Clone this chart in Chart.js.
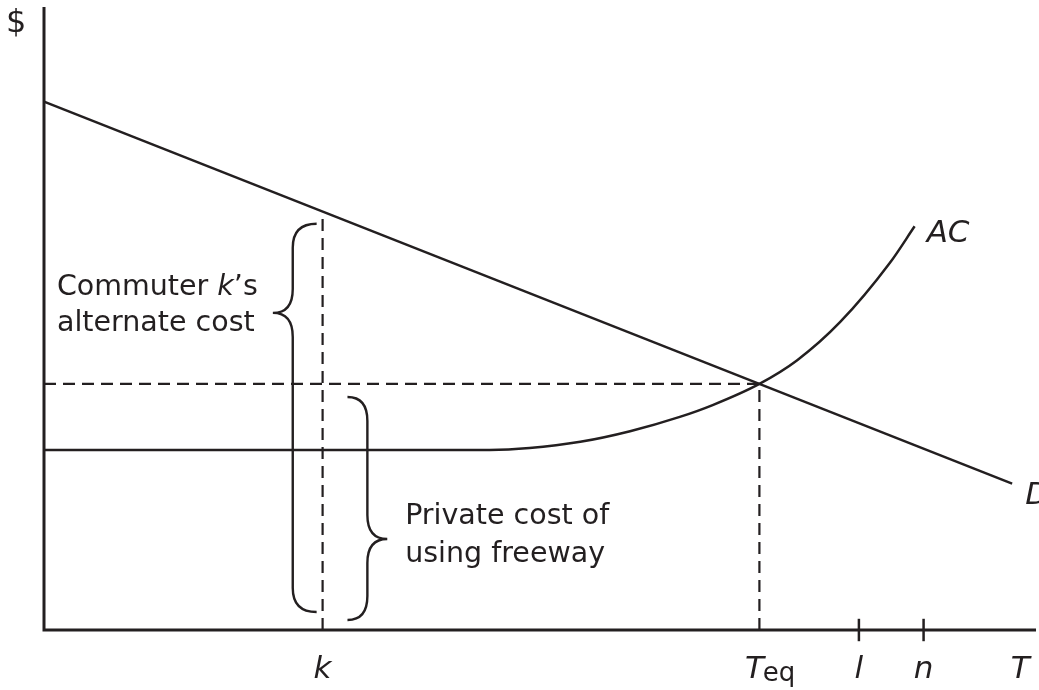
<!DOCTYPE html>
<html>
<head>
<meta charset="utf-8">
<script src="https://cdn.jsdelivr.net/npm/chart.js@4/dist/chart.umd.min.js"></script>
<style>
html,body{margin:0;padding:0;background:#fff;}
</style>
</head>
<body>
<canvas id="grafik" width="1039" height="690"></canvas>
<script>
// demand line D (two ends)
var dX = [0, 97.3];
var dY = [84.8, 23.5];
// average cost curve AC
var acX = [0, 44.8, 48.8, 53.9, 58.9, 63.9, 67.2, 71.9, 75.7, 80.0, 85.0, 87.5];
var acY = [28.9, 28.9, 29.2, 30.2, 31.9, 34.2, 36.1, 39.5, 43.3, 49.4, 58.9, 64.8];
// commuter k and the equilibrium point
var kX = 28.0;
var eqX = 71.9;
var eqY = 39.5;
// x axis labels
var tickX = [28.0, 71.9, 81.9, 88.4, 98.1];
var tickText = ['k', 'T', 'l', 'n', 'T'];
var tickSub = ['', 'eq', '', '', ''];
// small marks on the x axis
var markX = [81.9, 88.4];
// braces: [end x, spine x, tip x, top y, bottom y, tip y]
var braceLeft = [27.4, 25.0, 23.0, 65.2, 2.9, 50.9];
var braceRight = [30.5, 32.5, 34.5, 37.4, 1.6, 14.6];

var renk = '#231f20';
var yazi = '"DejaVu Sans", sans-serif';

function pts(xs, ys) {
  return xs.map(function(v, i) { return {x: v, y: ys[i]}; });
}
function dAt(x) {
  return dY[0] + (dY[1] - dY[0]) * (x - dX[0]) / (dX[1] - dX[0]);
}
function cizgi(data, w, dash, extra) {
  var d = {data: data, showLine: true, borderColor: renk, borderWidth: w,
    pointRadius: 0, fill: false, clip: false, borderDash: dash || []};
  for (var k in extra) d[k] = extra[k];
  return d;
}

var datasets = [];
// axes
datasets.push(cizgi([{x: 0, y: 100}, {x: 0, y: 0}, {x: 99.7, y: 0}], 3, null,
  {borderJoinStyle: 'miter'}));
// D and AC
datasets.push(cizgi(pts(dX, dY), 2.5));
datasets.push(cizgi(pts(acX, acY), 2.5, null, {cubicInterpolationMode: 'monotone'}));
// dashed guides
datasets.push(cizgi([{x: kX, y: 0}, {x: kX, y: dAt(kX)}], 2.2, [12, 7]));
datasets.push(cizgi([{x: 0, y: eqY}, {x: eqX, y: eqY}], 2.2, [12, 7]));
datasets.push(cizgi([{x: eqX, y: 0}, {x: eqX, y: eqY}], 2.2, [12, 7]));
// marks l and n
markX.forEach(function(m) {
  datasets.push(cizgi([{x: m, y: -1.8}, {x: m, y: 1.8}], 2.5));
});

function kose(ctx, sx, sy, b) {
  var xe = sx.getPixelForValue(b[0]), xs = sx.getPixelForValue(b[1]), xt = sx.getPixelForValue(b[2]);
  var yt = sy.getPixelForValue(b[3]), yb = sy.getPixelForValue(b[4]), yp = sy.getPixelForValue(b[5]);
  var r = 24;
  ctx.beginPath();
  ctx.moveTo(xe, yt);
  ctx.quadraticCurveTo(xs, yt, xs, yt + r);
  ctx.lineTo(xs, yp - r);
  ctx.quadraticCurveTo(xs, yp, xt, yp);
  ctx.quadraticCurveTo(xs, yp, xs, yp + r);
  ctx.lineTo(xs, yb - r);
  ctx.quadraticCurveTo(xs, yb, xe, yb);
  ctx.stroke();
}

// draw a line made of [text, italic] parts
function parcali(ctx, parts, x, y, size) {
  parts.forEach(function(p) {
    ctx.font = (p[1] ? 'italic ' : '') + size + 'px ' + yazi;
    ctx.fillText(p[0], x, y);
    x += ctx.measureText(p[0]).width;
  });
}

var etiketler = {
  id: 'etiketler',
  afterDatasetsDraw: function(chart) {
    var ctx = chart.ctx;
    var sx = chart.scales.x, sy = chart.scales.y;
    ctx.save();
    ctx.fillStyle = renk;
    ctx.strokeStyle = renk;
    ctx.lineWidth = 2.4;
    kose(ctx, sx, sy, braceLeft);
    kose(ctx, sx, sy, braceRight);

    ctx.textBaseline = 'alphabetic';
    ctx.textAlign = 'left';
    // left brace text
    var lx = sx.getPixelForValue(1.3);
    parcali(ctx, [['Commuter ', false], ['k', true], ['\u2019s', false]], lx, sy.getPixelForValue(53.8), 28.5);
    parcali(ctx, [['alternate cost', false]], lx, sy.getPixelForValue(48.0), 28.5);
    // right brace text
    var rx = sx.getPixelForValue(36.3);
    parcali(ctx, [['Private cost of', false]], rx, sy.getPixelForValue(17.0), 28.5);
    parcali(ctx, [['using freeway', false]], rx, sy.getPixelForValue(10.9), 28.5);

    // $ on the y axis
    ctx.font = '32px ' + yazi;
    ctx.fillText('$', 6, 32);

    // curve names
    ctx.font = 'italic 31px ' + yazi;
    var acEnd = acX.length - 1;
    ctx.fillText('AC', sx.getPixelForValue(acX[acEnd]) + 12, sy.getPixelForValue(acY[acEnd]) + 16);
    ctx.fillText('D', sx.getPixelForValue(dX[1]) + 13, sy.getPixelForValue(dY[1]) + 20);

    // x axis labels
    var base = sy.getPixelForValue(0) + 48;
    tickX.forEach(function(v, i) {
      var px = sx.getPixelForValue(v);
      ctx.font = 'italic 31px ' + yazi;
      var w = ctx.measureText(tickText[i]).width;
      var x0 = px - w / 2;
      if (tickSub[i]) x0 -= 5;
      ctx.fillText(tickText[i], x0, base);
      if (tickSub[i]) {
        ctx.font = '26px ' + yazi;
        ctx.fillText(tickSub[i], x0 + w - 1, base + 3);
      }
    });
    ctx.restore();
  }
};

new Chart(document.getElementById('grafik'), {
  type: 'scatter',
  data: {datasets: datasets},
  options: {
    responsive: false,
    animation: false,
    devicePixelRatio: 1,
    layout: {padding: {left: 44, top: 7, right: 0, bottom: 60}},
    scales: {
      x: {type: 'linear', min: 0, max: 100, display: false},
      y: {type: 'linear', min: 0, max: 100, display: false}
    },
    plugins: {legend: {display: false}, tooltip: {enabled: false}}
  },
  plugins: [etiketler]
});
</script>
</body>
</html>
